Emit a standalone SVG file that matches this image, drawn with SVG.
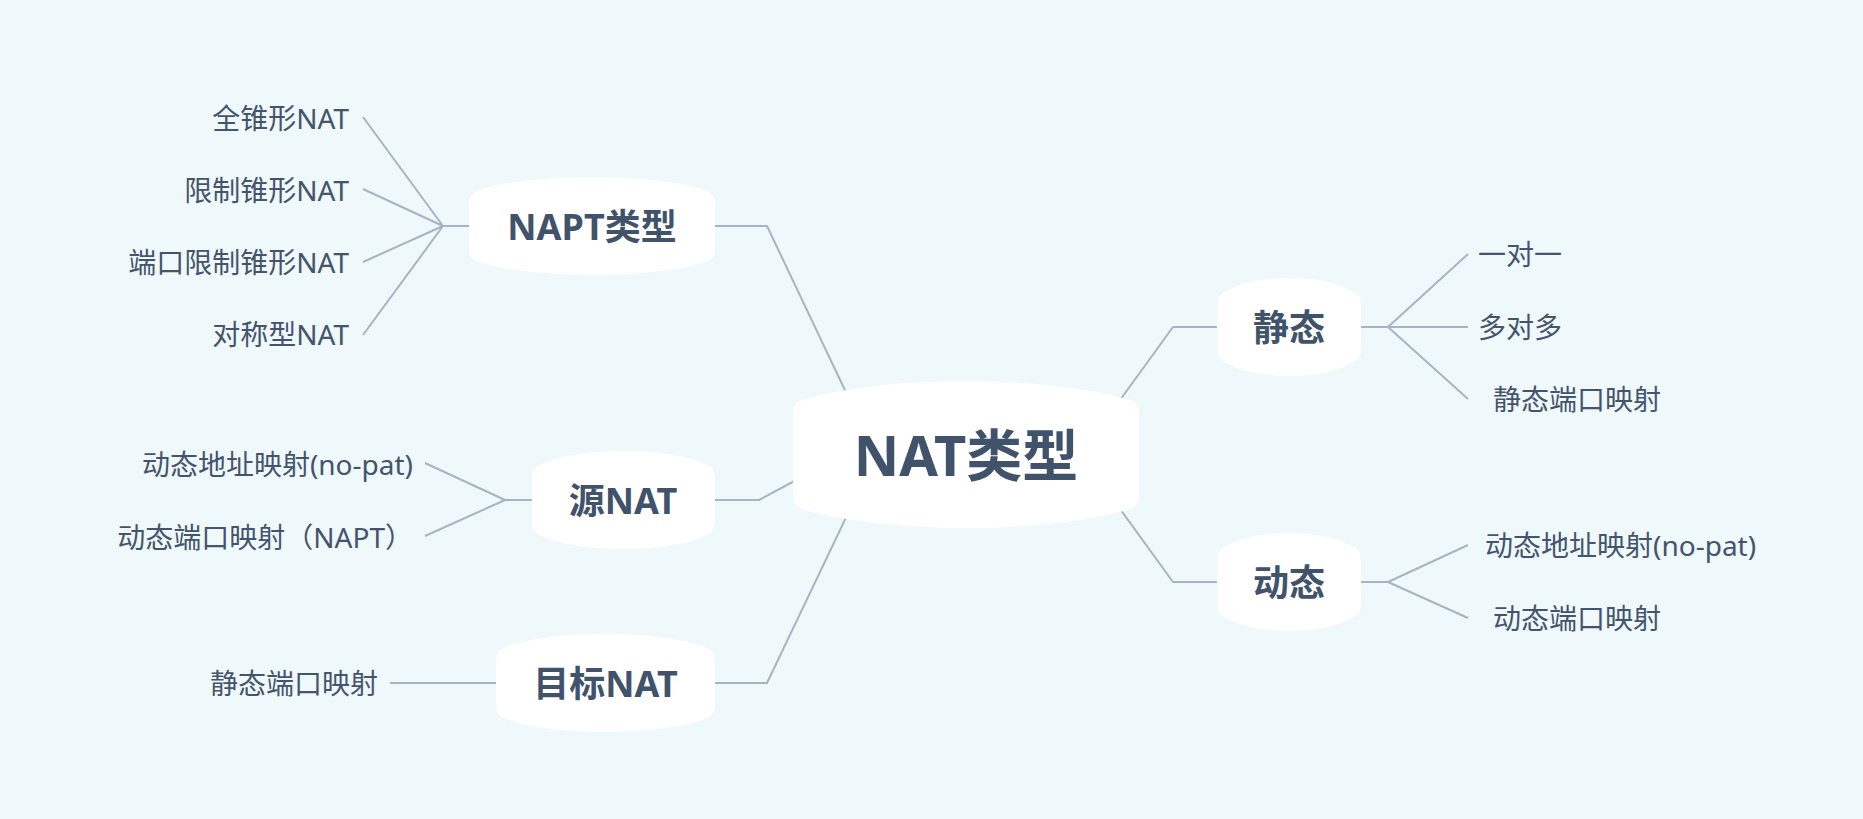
<svg xmlns="http://www.w3.org/2000/svg" width="1863" height="819" viewBox="0 0 1863 819">
<style>
.bg{fill:#EFF8FB}
.node{fill:#FFFFFF}
.conn{fill:none;stroke:#A6B5C6;stroke-width:2;stroke-linejoin:round}
.leaf{font-family:"Noto Sans","Noto Sans CJK SC",sans-serif;font-size:28px;fill:#43546C;dominant-baseline:central}
.lbl{font-family:"Noto Sans","Noto Sans CJK SC",sans-serif;font-size:36px;font-weight:bold;fill:#41536B;text-anchor:middle;dominant-baseline:central}
.root{font-size:56px}
.end{text-anchor:end}
</style>
<rect class="bg" x="0" y="0" width="1863" height="819"/>
<g id="connectors">
<path class="conn" d="M852,405 L767,226 H715"/>
<path class="conn" d="M800,478 L759,500 H715"/>
<path class="conn" d="M852,505 L767,683 H715"/>
<path class="conn" d="M1115,407 L1173,327 H1217"/>
<path class="conn" d="M1115,502 L1173,582 H1217"/>
<path class="conn" d="M469,226 H443 M443,226 L363,117 M443,226 L363,189 M443,226 L363,262 M443,226 L363,335"/>
<path class="conn" d="M532,500 H505 M505,500 L425,463 M505,500 L425,536"/>
<path class="conn" d="M496,683 H390"/>
<path class="conn" d="M1361,327 H1388 M1388,327 L1468,254 M1388,327 L1468,327 M1388,327 L1468,399"/>
<path class="conn" d="M1361,582 H1388 M1388,582 L1468,545 M1388,582 L1468,618"/>
</g>
<g id="root">
<path class="node" d="M793,412.5 Q793,402.5 803,399.5 C889.5,374.8 1042.5,374.8 1129,399.5 Q1139,402.5 1139,412.5 L1139,496.5 Q1139,506.5 1129,509.5 C1042.5,534.2 889.5,534.2 803,509.5 Q793,506.5 793,496.5 Z"/>
<text class="lbl root" x="966" y="454">NAT类型</text>
</g>
<g id="napt">
<path class="node" d="M469,203 Q469,193 479,190 C530.5,172.7 653.5,172.7 705,190 Q715,193 715,203 L715,249 Q715,259 705,262 C653.5,279.3 530.5,279.3 479,262 Q469,259 469,249 Z"/>
<text class="lbl" x="592" y="226">NAPT类型</text>
</g>
<g id="napt-children">
<text class="leaf end" x="349" y="118">全锥形NAT</text>
<text class="leaf end" x="349" y="190">限制锥形NAT</text>
<text class="leaf end" x="349" y="262">端口限制锥形NAT</text>
<text class="leaf end" x="349" y="334">对称型NAT</text>
</g>
<g id="snat">
<path class="node" d="M532,477 Q532,467 542,464 C577.75,446.7 669.25,446.7 705,464 Q715,467 715,477 L715,523 Q715,533 705,536 C669.25,553.3 577.75,553.3 542,536 Q532,533 532,523 Z"/>
<text class="lbl" x="623" y="500">源NAT</text>
</g>
<g id="snat-children">
<text class="leaf end" x="413" y="464">动态地址映射(no-pat)</text>
<text class="leaf end" x="413" y="537">动态端口映射（NAPT）</text>
</g>
<g id="dnat">
<path class="node" d="M496,660 Q496,650 506,647 C550.75,629.7 660.25,629.7 705,647 Q715,650 715,660 L715,706 Q715,716 705,719 C660.25,736.3 550.75,736.3 506,719 Q496,716 496,706 Z"/>
<text class="lbl" x="605.5" y="683">目标NAT</text>
</g>
<g id="dnat-children">
<text class="leaf end" x="378" y="683">静态端口映射</text>
</g>
<g id="static">
<path class="node" d="M1217,304 Q1217,294 1227,291 C1253,273.7 1325,273.7 1351,291 Q1361,294 1361,304 L1361,350 Q1361,360 1351,363 C1325,380.3 1253,380.3 1227,363 Q1217,360 1217,350 Z"/>
<text class="lbl" x="1289" y="327">静态</text>
</g>
<g id="static-children">
<text class="leaf" x="1478" y="254">一对一</text>
<text class="leaf" x="1478" y="327">多对多</text>
<text class="leaf" x="1493" y="399">静态端口映射</text>
</g>
<g id="dynamic">
<path class="node" d="M1217,559 Q1217,549 1227,546 C1253,528.7 1325,528.7 1351,546 Q1361,549 1361,559 L1361,605 Q1361,615 1351,618 C1325,635.3 1253,635.3 1227,618 Q1217,615 1217,605 Z"/>
<text class="lbl" x="1289" y="582">动态</text>
</g>
<g id="dynamic-children">
<text class="leaf" x="1485" y="545">动态地址映射(no-pat)</text>
<text class="leaf" x="1493" y="618">动态端口映射</text>
</g>
</svg>
